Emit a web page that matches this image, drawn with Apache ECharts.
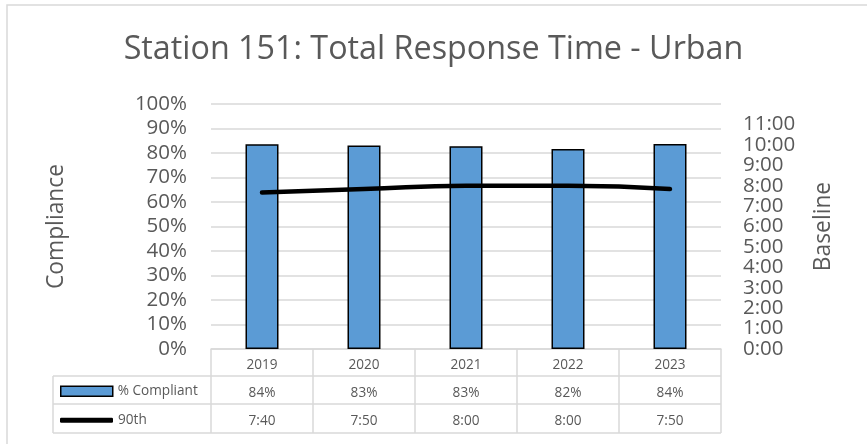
<!DOCTYPE html>
<html><head><meta charset="utf-8">
<script src="https://cdn.jsdelivr.net/npm/echarts@6/dist/echarts.min.js"></script>
<style>html,body{margin:0;padding:0;background:#fff}#c{width:867px;height:444px}</style>
</head><body><div id="c"></div>
<script>
// ---- data ----
const years = ['2019', '2020', '2021', '2022', '2023'];
const compliancePct = [83.6, 83.1, 82.8, 81.6, 83.7];      // % Compliant
const baselineMinutes = [460, 470, 480, 480, 470];          // 90th: 7:40, 7:50, 8:00, 8:00, 7:50
const seriesNames = ['% Compliant', '90th'];
const titleText = 'Station 151: Total Response Time - Urban';
const leftAxisTitle = 'Compliance';
const rightAxisTitle = 'Baseline';

// ---- style / layout ----
const FONT = '"Open Sans", "Noto Sans", sans-serif';
const TXT = '#595959';
const GRIDC = '#d9d9d9';
const BAR = '#5B9BD5';
const cv = document.createElement('canvas').getContext('2d');
function fit(text, w) { cv.font = '100px ' + FONT; return Math.round(1000 * w / cv.measureText(text).width) / 10; }
const titleSize = fit(titleText, 620);
const axisTitleSize = fit(leftAxisTitle, 125);
const tickSize = fit('100%', 52);
const tableSize = fit('% Compliant', 80);

const G = { left: 211, right: 146, top: 104, bottom: 95 };
const plotRight = 867 - G.right, plotBottom = 444 - G.bottom;
const tableLeft = 53, tableRows = [376, 404, 433];

function hm(m) { const h = Math.floor(m / 60), mm = Math.round(m % 60); return h + ':' + String(mm).padStart(2, '0'); }

const tableRich = {
  y: { fontSize: tableSize, color: TXT, lineHeight: 28, fontFamily: FONT },
  p: { fontSize: tableSize, color: TXT, lineHeight: 28, fontFamily: FONT },
  t: { fontSize: tableSize, color: TXT, lineHeight: 28, fontFamily: FONT }
};

const frame = [{ type: 'rect', shape: { x: 7, y: 5, width: 900, height: 500 }, style: { fill: 'none', stroke: GRIDC, lineWidth: 1.5 }, silent: true }];
tableRows.forEach(y => frame.push({ type: 'line', shape: { x1: tableLeft, y1: y, x2: plotRight, y2: y }, style: { stroke: GRIDC, lineWidth: 1.5 }, silent: true }));
frame.push({ type: 'line', shape: { x1: tableLeft, y1: tableRows[0], x2: tableLeft, y2: tableRows[2] }, style: { stroke: GRIDC, lineWidth: 1.5 }, silent: true });

const rightLabel = { fontSize: tickSize, color: TXT, margin: 22, fontFamily: FONT, hideOverlap: false };

const chart = echarts.init(document.getElementById('c'), null, { renderer: 'canvas' });
chart.setOption({
  animation: false,
  backgroundColor: '#fff',
  textStyle: { fontFamily: FONT },
  title: {
    text: titleText, left: 'center', top: 34, padding: [0, 0, 0, 9],
    textStyle: { fontFamily: FONT, fontSize: titleSize, fontWeight: 'normal', color: TXT }
  },
  legend: [
    {
      data: [{ name: seriesNames[0], icon: 'rect', itemStyle: { color: BAR, borderColor: '#000', borderWidth: 1.5 } }],
      left: 60, top: 391 - tableSize / 2, padding: 0, itemWidth: 52, itemHeight: 10, selectedMode: false,
      textStyle: { fontFamily: FONT, fontSize: tableSize, color: TXT }
    },
    {
      data: [{ name: seriesNames[1], icon: 'roundRect', itemStyle: { color: '#000', borderWidth: 0 } }],
      left: 60, top: 420 - tableSize / 2, padding: 0, itemWidth: 53, itemHeight: 5, selectedMode: false,
      textStyle: { fontFamily: FONT, fontSize: tableSize, color: TXT }
    }
  ],
  grid: Object.assign({ outerBoundsMode: 'none', containLabel: false }, G),
  xAxis: {
    type: 'category', data: years, boundaryGap: true,
    axisLine: { lineStyle: { color: GRIDC, width: 1.5 } },
    axisTick: { show: true, length: tableRows[2] - plotBottom, lineStyle: { color: GRIDC, width: 1.5 } },
    axisLabel: {
      margin: 2, interval: 0,
      formatter: (v, i) => `{y|${v}}\n{p|${Math.round(compliancePct[i])}%}\n{t|${hm(baselineMinutes[i])}}`,
      rich: tableRich
    }
  },
  yAxis: [
    {
      type: 'value', min: 0, max: 100, interval: 10,
      axisLabel: { formatter: '{value}%', fontSize: tickSize, color: TXT, margin: 24, fontFamily: FONT, showMinLabel: true, hideOverlap: false },
      splitLine: { lineStyle: { color: GRIDC, width: 1.5 } },
      axisLine: { show: false }, axisTick: { show: false },
      name: leftAxisTitle, nameLocation: 'middle', nameRotate: 90, nameGap: 143,
      nameTextStyle: { fontSize: axisTitleSize, color: TXT, fontFamily: FONT }
    },
    {
      type: 'value', min: 0, max: 720, interval: 60, position: 'right',
      axisLabel: Object.assign({ formatter: v => (v >= 720 ? '' : hm(v)), showMinLabel: false }, rightLabel),
      splitLine: { show: false }, axisLine: { show: false }, axisTick: { show: false },
      name: rightAxisTitle, nameLocation: 'middle', nameRotate: 90, nameGap: 91,
      nameTextStyle: { fontSize: axisTitleSize, color: TXT, fontFamily: FONT }
    },
    {
      // same scale; carries only the 0:00 label (the main right axis drops its min label when labels crowd)
      type: 'value', min: 0, max: 720, interval: 720, position: 'right',
      axisLabel: Object.assign({ formatter: v => (v >= 720 ? '' : hm(v)), showMinLabel: true }, rightLabel),
      splitLine: { show: false }, axisLine: { show: false }, axisTick: { show: false }
    }
  ],
  series: [
    {
      name: seriesNames[0], type: 'bar', data: compliancePct, barWidth: 33,
      itemStyle: { color: BAR, borderColor: '#000', borderWidth: 1.5 }
    },
    {
      name: seriesNames[1], type: 'line', yAxisIndex: 1, data: baselineMinutes,
      smooth: 0.5, symbol: 'none', z: 3,
      lineStyle: { color: '#000', width: 4.5, cap: 'round' }, itemStyle: { color: '#000' }
    }
  ],
  graphic: frame
});
</script>
</body></html>
